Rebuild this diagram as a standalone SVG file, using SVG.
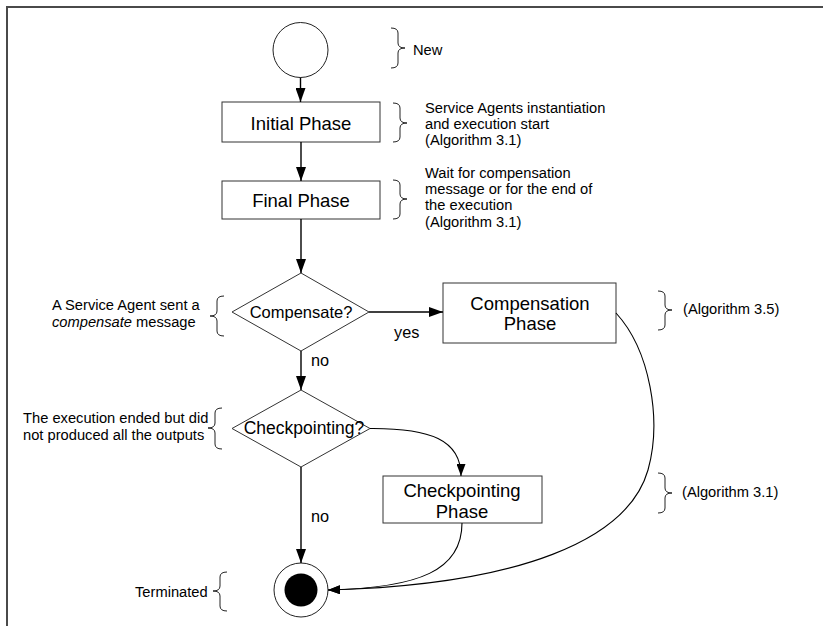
<svg xmlns="http://www.w3.org/2000/svg" width="823" height="626" viewBox="0 0 823 626">
  <defs>
    <marker id="arrow" viewBox="0 0 14 10" refX="14" refY="5" markerWidth="14" markerHeight="10" orient="auto" markerUnits="userSpaceOnUse">
      <path d="M0,0 L14,5 L0,10 Z" fill="#000"/>
    </marker>
    <marker id="arrow-small" viewBox="0 0 12 9" refX="12" refY="4.5" markerWidth="12" markerHeight="9" orient="auto" markerUnits="userSpaceOnUse">
      <path d="M0,0 L12,4.5 L0,9 Z" fill="#000"/>
    </marker>
    <style>
      .frame { fill: none; stroke: #4a4a4a; stroke-width: 2; }
      .box { fill: #fff; stroke: #333; stroke-width: 1; }
      .state { fill: #fff; stroke: #222; stroke-width: 1; }
      .edge { fill: none; stroke: #000; stroke-width: 1.4; marker-end: url(#arrow); }
      .curve { fill: none; stroke: #000; stroke-width: 1.1; marker-end: url(#arrow-small); }
      .brace { fill: none; stroke: #222; stroke-width: 1; }
      .label { font-family: "Liberation Sans", Arial, sans-serif; fill: #000; }
      .node { font-size: 18.5px; text-anchor: middle; }
      .note { font-size: 14.7px; }
      .guard { font-size: 16.3px; }
    </style>
  </defs>

  <rect class="frame" x="7" y="7" width="840" height="640"/>

  <!-- states and activities -->
  <g id="start">
    <circle class="state" cx="300.5" cy="50" r="27.5"/>
  </g>
  <g id="initial-phase">
    <rect class="box" x="222" y="102" width="158" height="40"/>
    <text class="label node" x="301" y="129.5">Initial Phase</text>
  </g>
  <g id="final-phase">
    <rect class="box" x="222" y="181" width="158" height="38"/>
    <text class="label node" x="301" y="206.5">Final Phase</text>
  </g>
  <g id="compensate-decision">
    <polygon class="box" points="301,273 369,312 301,351 232,312"/>
    <text class="label" x="301" y="318" font-size="16.5" text-anchor="middle">Compensate?</text>
  </g>
  <g id="compensation-phase">
    <rect class="box" x="443" y="283" width="173" height="60"/>
    <text class="label node" x="530" y="309.5">Compensation</text>
    <text class="label node" x="530" y="329.5">Phase</text>
  </g>
  <g id="checkpointing-decision">
    <polygon class="box" points="301,390 370,428.5 301,467 232,428.5"/>
    <text class="label" x="304" y="434" font-size="17.5" text-anchor="middle">Checkpointing?</text>
  </g>
  <g id="checkpointing-phase">
    <rect class="box" x="383" y="476" width="159" height="47"/>
    <text class="label node" x="462" y="496.5">Checkpointing</text>
    <text class="label node" x="462" y="517.5">Phase</text>
  </g>
  <g id="end">
    <circle class="state" cx="301" cy="590" r="27"/>
    <circle cx="301" cy="590" r="16.5" fill="#000"/>
  </g>

  <!-- transitions -->
  <g id="connectors">
    <path class="edge" d="M300.5,77.5 L300.5,102"/>
    <path class="edge" d="M301,142 L301,181"/>
    <path class="edge" d="M301,219 L301,273"/>
    <path class="edge" d="M369,312 L443,312"/>
    <path class="edge" d="M301,351 L301,390"/>
    <path class="curve" d="M370,428.5 C430,428 461,440 461,476"/>
    <path class="edge" d="M301,467 L301,563"/>
    <path class="curve" d="M462,523 C462,570 420,588 328,590"/>
    <path class="curve" d="M616,313 C650,350 662,420 648,470 C628,540 520,585 328,590"/>
    <text class="label guard" x="394" y="338">yes</text>
    <text class="label guard" x="311" y="366">no</text>
    <text class="label guard" x="311" y="522">no</text>
  </g>

  <!-- annotations -->
  <g id="note-new">
    <path class="brace" d="M391,28 Q398,28 398,33 L398,43 Q398,48 405,48 Q398,48 398,53 L398,63 Q398,68 391,68"/>
    <text class="label note" x="413" y="55">New</text>
  </g>
  <g id="note-initial">
    <path class="brace" d="M393,103 Q400,103 400,108 L400,118 Q400,123 407,123 Q400,123 400,128 L400,137 Q400,142 393,142"/>
    <text class="label note" x="425" y="113">Service Agents instantiation</text>
    <text class="label note" x="425" y="129">and execution start</text>
    <text class="label note" x="425" y="145">(Algorithm 3.1)</text>
  </g>
  <g id="note-final">
    <path class="brace" d="M393,180 Q400,180 400,185 L400,194 Q400,199 407,199 Q400,199 400,204 L400,214 Q400,219 393,219"/>
    <text class="label note" x="425" y="178">Wait for compensation</text>
    <text class="label note" x="425" y="194">message or for the end of</text>
    <text class="label note" x="425" y="210">the execution</text>
    <text class="label note" x="425" y="227">(Algorithm 3.1)</text>
  </g>
  <g id="note-compensate">
    <path class="brace" d="M224,296 Q217,296 217,301 L217,311 Q217,316 210,316 Q217,316 217,321 L217,331 Q217,336 224,336"/>
    <text class="label note" x="52" y="310">A Service Agent sent a</text>
    <text class="label note" x="52" y="327"><tspan font-style="italic">compensate</tspan> message</text>
  </g>
  <g id="note-compensation">
    <path class="brace" d="M658,291 Q665,291 665,296 L665,305 Q665,310 672,310 Q665,310 665,315 L665,325 Q665,330 658,330"/>
    <text class="label note" x="683" y="314">(Algorithm 3.5)</text>
  </g>
  <g id="note-checkpointing">
    <path class="brace" d="M222,408 Q215,408 215,413 L215,423 Q215,428 208,428 Q215,428 215,433 L215,444 Q215,449 222,449"/>
    <text class="label note" x="23" y="423">The execution ended but did</text>
    <text class="label note" x="23" y="440">not produced all the outputs</text>
  </g>
  <g id="note-checkpointing-phase">
    <path class="brace" d="M658,473 Q665,473 665,478 L665,488 Q665,493 672,493 Q665,493 665,498 L665,508 Q665,513 658,513"/>
    <text class="label note" x="682" y="497">(Algorithm 3.1)</text>
  </g>
  <g id="note-terminated">
    <path class="brace" d="M227,572 Q220,572 220,577 L220,586 Q220,591 213,591 Q220,591 220,596 L220,606 Q220,611 227,611"/>
    <text class="label note" x="135" y="597">Terminated</text>
  </g>
</svg>
